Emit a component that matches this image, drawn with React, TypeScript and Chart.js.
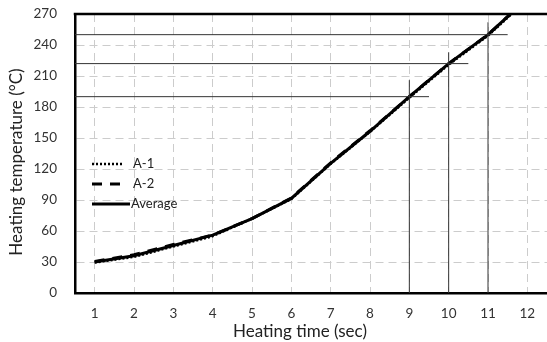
import React, { useEffect, useRef } from "react";
import { Chart, registerables } from "chart.js";

Chart.register(...registerables);

const xValues = [1, 2, 3, 4, 5, 6, 7, 8, 9, 10, 11, 12];
const seriesA1 = [29.5, 35, 45, 55, 72, 91, 125, 156, 189, 221, 249, 284];
const seriesA2 = [30.5, 37, 47, 56, 72, 92, 126, 157, 190, 222, 250, 285];
const seriesAvg = [30, 36, 46, 56, 72, 91.5, 125.5, 156.5, 190, 222, 250, 285];

const refY = [190, 222, 250];
const refEndX = [9.5, 10.5, 11.5];
const refX = [9, 10, 11];
const refTopY = [206, 233, 262];

const xTicks = [1, 2, 3, 4, 5, 6, 7, 8, 9, 10, 11, 12];
const yTicks = [0, 30, 60, 90, 120, 150, 180, 210, 240, 270];

const legendLabels = ["A-1", "A-2", "Average"];
const xTitle = "Heating time (sec)";
const yTitle = "Heating temperature (°C)";
const FONT = "Lato";

export default function App() {
  const ref = useRef<HTMLCanvasElement | null>(null);
  useEffect(() => {
    document.body.style.margin = "0";
    const canvas = ref.current;
    if (!canvas) return;

    const toPts = (ys: number[]) => xValues.map((x, i) => ({ x, y: ys[i] }));
    const refSets: any[] = [];
    refY.forEach((y, i) => {
      refSets.push({
        label: "h" + i,
        data: [{ x: 0.5, y }, { x: refEndX[i], y }],
        borderColor: "#333",
        borderWidth: 1,
        pointRadius: 0,
      });
    });
    refX.forEach((x, i) => {
      refSets.push({
        label: "v" + i,
        data: [{ x, y: 0 }, { x, y: refTopY[i] }],
        borderColor: "#333",
        borderWidth: 1,
        pointRadius: 0,
      });
    });

    const mainStyles = [
      { dash: [2, 2], width: 2.5 },
      { dash: [10, 8], width: 3 },
      { dash: [], width: 3 },
    ];

    const mainSets = [seriesA1, seriesA2, seriesAvg].map((s, i) => ({
      label: legendLabels[i],
      data: toPts(s),
      borderColor: "#000",
      borderWidth: mainStyles[i].width,
      borderDash: mainStyles[i].dash,
      pointRadius: 0,
      tension: 0,
    }));

    const extras = {
      id: "extras",
      afterDraw(chart: any) {
        const { ctx, chartArea } = chart;
        ctx.save();
        ctx.strokeStyle = "#000";
        ctx.lineWidth = 2.5;
        ctx.beginPath();
        ctx.moveTo(chartArea.left - 1.25, chartArea.top);
        ctx.lineTo(chartArea.right, chartArea.top);
        ctx.stroke();
        // legend
        const x0 = 92;
        const x1 = 130;
        const ys = [164, 184, 204];
        legendLabels.forEach((lab, i) => {
          ctx.setLineDash(mainStyles[i].dash);
          ctx.lineWidth = mainStyles[i].width;
          ctx.beginPath();
          ctx.moveTo(x0, ys[i]);
          ctx.lineTo(i === 2 ? x1 : x1 - 6, ys[i]);
          ctx.stroke();
          ctx.setLineDash([]);
          ctx.fillStyle = "#222";
          ctx.font = `13px ${FONT}`;
          ctx.textBaseline = "middle";
          ctx.textAlign = "left";
          ctx.fillText(lab, i === 2 ? 131 : 133, ys[i]);
        });
        // axis titles
        ctx.fillStyle = "#222";
        ctx.font = `17px ${FONT}`;
        ctx.textAlign = "center";
        ctx.textBaseline = "middle";
        ctx.fillText(xTitle, 300, 332);
        ctx.translate(17, 162);
        ctx.rotate(-Math.PI / 2);
        ctx.fillText(yTitle, 0, 0);
        ctx.restore();
      },
    };

    const chart = new Chart(canvas, {
      type: "line",
      data: { datasets: [...refSets, ...mainSets] as any },
      options: {
        animation: false,
        responsive: false,
        devicePixelRatio: 1,
        layout: { padding: 0 },
        plugins: { legend: { display: false }, tooltip: { enabled: false } },
        scales: {
          x: {
            type: "linear",
            min: 0.5,
            max: 12.5,
            afterBuildTicks: (axis: any) => {
              axis.ticks = xTicks.map((v) => ({ value: v }));
            },
            afterFit: (scale: any) => {
              scale.height = 49;
              scale.paddingLeft = 0;
              scale.paddingRight = 0;
            },
            grid: { color: "#cccccc", lineWidth: 1, drawTicks: false },
            border: { color: "#000", width: 2.5, dash: [8, 5] },
            ticks: { color: "#333", font: { family: FONT, size: 13.5 }, padding: 13, maxRotation: 0, autoSkip: false },
          },
          y: {
            min: 0,
            max: 270,
            afterBuildTicks: (axis: any) => {
              axis.ticks = yTicks.map((v) => ({ value: v }));
            },
            afterFit: (scale: any) => {
              scale.width = 75;
              scale.paddingTop = 14;
              scale.paddingBottom = 0;
            },
            grid: { color: "#cccccc", lineWidth: 1, drawTicks: false },
            border: { color: "#000", width: 2.5, dash: [8, 5] },
            ticks: { color: "#333", font: { family: FONT, size: 13.5 }, padding: 18 },
          },
        },
      },
      plugins: [extras],
    });
    return () => chart.destroy();
  }, []);
  return <canvas ref={ref} width={547} height={342} style={{ display: "block" }} />;
}
